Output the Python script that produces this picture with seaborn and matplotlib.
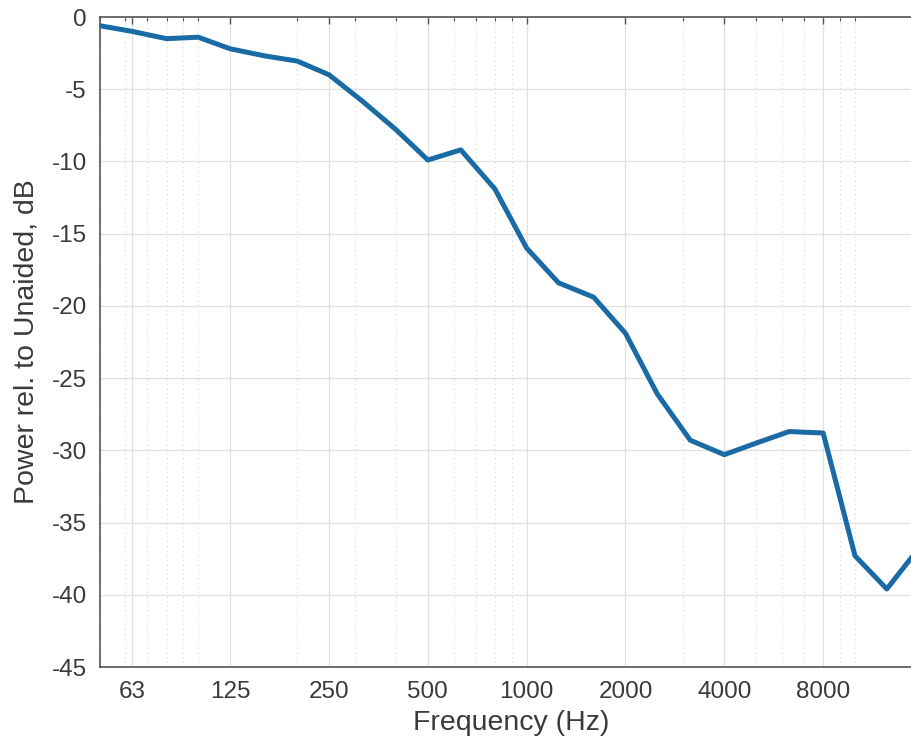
import matplotlib
matplotlib.use("Agg")
import matplotlib.pyplot as plt
import numpy as np
import pandas as pd
import seaborn as sns
from matplotlib.ticker import FixedLocator, FixedFormatter, LogLocator, NullFormatter

# Third-octave band centre frequencies and measured power relative to unaided
freq_hz = [50, 63, 80, 100, 125, 160, 200, 250, 315, 400, 500, 630, 800,
           1000, 1250, 1600, 2000, 2500, 3150, 4000, 5000, 6300, 8000,
           10000, 12500, 16000]
power_db = [-0.6, -1.0, -1.5, -1.4, -2.2, -2.7, -3.05, -4.0, -5.8, -7.8,
            -9.9, -9.2, -11.9, -16.0, -18.4, -19.4, -21.9, -26.1, -29.3,
            -30.3, -29.5, -28.7, -28.8, -37.3, -39.6, -36.5]

xtick_values = [63, 125, 250, 500, 1000, 2000, 4000, 8000]
xtick_labels = ["63", "125", "250", "500", "1000", "2000", "4000", "8000"]
ytick_values = [0, -5, -10, -15, -20, -25, -30, -35, -40, -45]

sns.set_style("white")
plt.rcParams["font.family"] = ["Liberation Sans", "DejaVu Sans"]
plt.rcParams["axes.unicode_minus"] = False

text_color = "#3a3a3a"
axis_color = "#555555"
grid_color = "#e0e0e0"

df = pd.DataFrame({"Frequency (Hz)": freq_hz, "Power": power_db})

fig = plt.figure(figsize=(9.11, 7.44), dpi=100)
ax = fig.add_axes([99.5 / 911, 77 / 744, 822.5 / 911, 650 / 744])
ax.set_xscale("log")

sns.lineplot(data=df, x="Frequency (Hz)", y="Power", ax=ax,
             color="#1a6aa6", linewidth=3.6, zorder=3)

ax.set_xlim(50, 16000)
ax.set_ylim(-45, 0)

ax.xaxis.set_major_locator(FixedLocator(xtick_values))
ax.xaxis.set_major_formatter(FixedFormatter(xtick_labels))
ax.xaxis.set_minor_locator(LogLocator(base=10, subs=np.arange(1, 10)))
ax.xaxis.set_minor_formatter(NullFormatter())
ax.yaxis.set_major_locator(FixedLocator(ytick_values))

ax.grid(which="major", color=grid_color, linewidth=0.9, linestyle="-", zorder=0)
ax.grid(which="minor", axis="x", color=grid_color, linewidth=0.9,
        linestyle=(0, (1.2, 2.5)), zorder=0)

ax.tick_params(which="both", direction="in", top=True, right=True,
               color=axis_color, labelcolor=text_color, labelsize=17.5)
ax.tick_params(which="major", length=5, width=1.0)
ax.tick_params(which="minor", length=3, width=0.8)
ax.tick_params(axis="y", pad=9)
ax.tick_params(axis="x", pad=10)

for spine in ax.spines.values():
    spine.set_color(axis_color)
    spine.set_linewidth(1.2)

ax.set_xlabel("Frequency (Hz)", fontsize=20.5, color=text_color, labelpad=5)
ax.set_ylabel("Power rel. to Unaided, dB", fontsize=20.5, color=text_color,
              labelpad=9)

fig.savefig("out.png", dpi=100)
